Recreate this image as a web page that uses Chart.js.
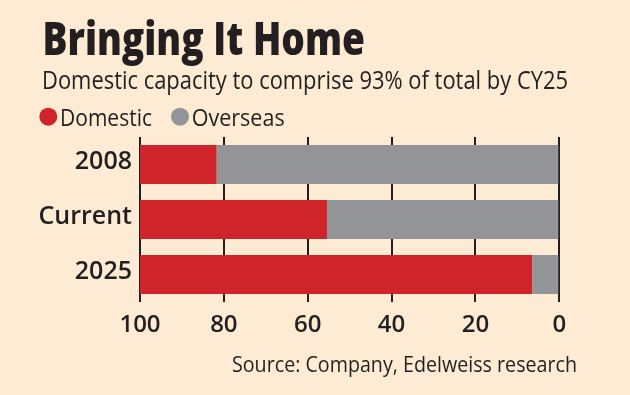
<!DOCTYPE html>
<html>
<head>
<meta charset="utf-8">
<script src="https://cdn.jsdelivr.net/npm/chart.js@4"></script>
<style>
    html, body { margin: 0; padding: 0; background: #fdebd3; }
    #wrap { width: 630px; height: 395px; position: relative; }
</style>
</head>
<body>
<div id="wrap"><canvas id="chart" width="630" height="395"></canvas></div>
<script>
const categories = ['2008', 'Current', '2025'];
const domestic = [18.3, 44.6, 93.6];
const overseas = [81.7, 55.4, 6.4];
const xTicks = [100, 80, 60, 40, 20, 0];

const titleText = 'Bringing It Home';
const subtitleText = 'Domestic capacity to comprise 93% of total by CY25';
const sourceText = 'Source: Company, Edelweiss research';

const BG = '#fdebd3';
const RED = '#d0242b';
const GREY = '#929497';
const INK = '#231f20';

// draw text squeezed/stretched to a given width
function fitText(ctx, text, x, y, width, font) {
    ctx.save();
    ctx.font = font;
    ctx.textBaseline = 'alphabetic';
    ctx.textAlign = 'left';
    const w = ctx.measureText(text).width;
    ctx.translate(x, y);
    ctx.scale(width / w, 1);
    ctx.fillText(text, 0, 0);
    ctx.restore();
}

const decorations = {
    id: 'decorations',
    beforeDraw(chart) {
        const ctx = chart.ctx;
        ctx.save();
        ctx.fillStyle = BG;
        ctx.fillRect(0, 0, chart.width, chart.height);
        ctx.restore();
    },
    afterDraw(chart) {
        const ctx = chart.ctx;
        ctx.save();
        ctx.fillStyle = INK;
        fitText(ctx, titleText, 42.5, 54.5, 322.5, '800 46px "Open Sans"');
        fitText(ctx, subtitleText, 42, 89, 526, '400 25px "Open Sans"');
        fitText(ctx, sourceText, 232, 371.5, 345, '400 22px "Open Sans"');

        // legend, in reading order Domestic then Overseas
        const items = [
            { ds: chart.data.datasets[1], cx: 48.3, tx: 60, tw: 92 },
            { ds: chart.data.datasets[0], cx: 180, tx: 191.7, tw: 93 },
        ];
        items.forEach(it => {
            ctx.fillStyle = it.ds.backgroundColor;
            ctx.beginPath();
            ctx.arc(it.cx, 116.7, 9, 0, Math.PI * 2);
            ctx.fill();
            ctx.fillStyle = INK;
            fitText(ctx, it.ds.label, it.tx, 125.7, it.tw, '400 23px "Open Sans"');
        });
        ctx.restore();
    }
};

new Chart(document.getElementById('chart'), {
    type: 'bar',
    data: {
        labels: categories,
        datasets: [
            { label: 'Overseas', data: overseas, backgroundColor: GREY },
            { label: 'Domestic', data: domestic, backgroundColor: RED },
        ]
    },
    options: {
        indexAxis: 'y',
        responsive: false,
        animation: false,
        devicePixelRatio: 1,
        layout: { padding: { top: 137, left: 0, right: 70.7, bottom: 53 } },
        datasets: {
            bar: { barPercentage: 0.71, categoryPercentage: 1, borderWidth: 0 }
        },
        plugins: {
            legend: { display: false },
            tooltip: { enabled: false },
        },
        scales: {
            x: {
                stacked: true,
                reverse: true,
                min: 0,
                max: 100,
                afterBuildTicks: (scale) => {
                    scale.ticks = xTicks.map(v => ({ value: v }));
                },
                afterFit: (scale) => { scale.height = 40; },
                grid: { color: INK, lineWidth: 2, drawTicks: false },
                border: { display: false },
                ticks: {
                    color: INK,
                    padding: 9,
                    maxRotation: 0,
                    font: { family: 'Open Sans', size: 24, weight: '600' },
                },
            },
            y: {
                stacked: true,
                afterFit: (scale) => { scale.width = 140; },
                grid: { display: false, drawTicks: false },
                border: { display: false },
                ticks: {
                    color: INK,
                    padding: 8,
                    labelOffset: -3,
                    font: { family: 'Open Sans', size: 25, weight: '600' },
                },
            },
        },
    },
    plugins: [decorations],
});
</script>
</body>
</html>
